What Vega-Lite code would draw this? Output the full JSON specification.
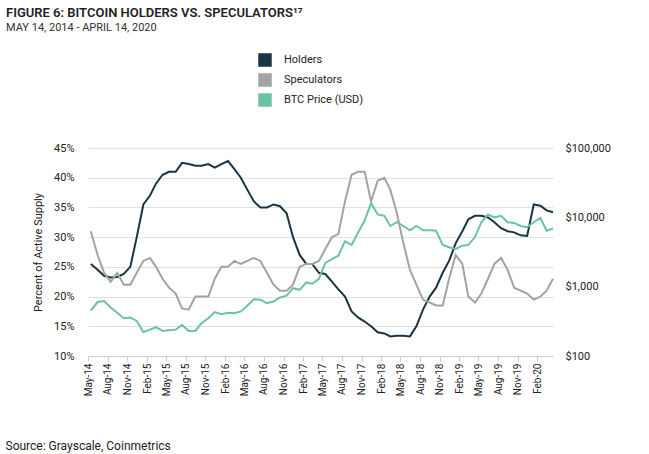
{
  "$schema": "https://vega.github.io/schema/vega-lite/v6.json",
  "autosize": "none",
  "width": 465,
  "height": 208,
  "padding": {"left": 88, "top": 148, "right": 96, "bottom": 98},
  "background": "white",
  "config": {"font": "Roboto", "view": {"stroke": null}},
  "title": {
    "text": "FIGURE 6: BITCOIN HOLDERS VS. SPECULATORS¹⁷",
    "subtitle": "MAY 14, 2014 -  APRIL 14, 2020",
    "anchor": "start", "frame": "group", "dx": -82, "offset": 20,
    "fontSize": 13, "fontWeight": 600, "color": "#222",
    "subtitleFontSize": 11, "subtitleColor": "#333", "subtitlePadding": 2
  },
  "data": {"values": [
    {"date": "2014-05-14", "holders": 25.5, "speculators": 31, "price": 450},
    {"date": "2014-06-15", "holders": 24.5, "speculators": 27, "price": 600},
    {"date": "2014-07-15", "holders": 23.5, "speculators": 24, "price": 620},
    {"date": "2014-08-15", "holders": 23.2, "speculators": 22.5, "price": 500},
    {"date": "2014-09-15", "holders": 23.3, "speculators": 24, "price": 420},
    {"date": "2014-10-15", "holders": 23.8, "speculators": 22, "price": 350},
    {"date": "2014-11-15", "holders": 25, "speculators": 22, "price": 360},
    {"date": "2014-12-15", "holders": 30, "speculators": 24, "price": 320},
    {"date": "2015-01-15", "holders": 35.5, "speculators": 26, "price": 220},
    {"date": "2015-02-15", "holders": 37, "speculators": 26.5, "price": 240},
    {"date": "2015-03-15", "holders": 39, "speculators": 25, "price": 260},
    {"date": "2015-04-15", "holders": 40.5, "speculators": 23, "price": 230},
    {"date": "2015-05-15", "holders": 41, "speculators": 21.5, "price": 235},
    {"date": "2015-06-15", "holders": 41, "speculators": 20.5, "price": 240},
    {"date": "2015-07-15", "holders": 42.5, "speculators": 18, "price": 280},
    {"date": "2015-08-15", "holders": 42.3, "speculators": 17.8, "price": 230},
    {"date": "2015-09-15", "holders": 42, "speculators": 20, "price": 230},
    {"date": "2015-10-15", "holders": 42, "speculators": 20, "price": 300},
    {"date": "2015-11-15", "holders": 42.3, "speculators": 20, "price": 350},
    {"date": "2015-12-15", "holders": 41.7, "speculators": 23, "price": 430},
    {"date": "2016-01-15", "holders": 42.3, "speculators": 25, "price": 400},
    {"date": "2016-02-15", "holders": 42.8, "speculators": 25, "price": 420},
    {"date": "2016-03-15", "holders": 41.5, "speculators": 26, "price": 415},
    {"date": "2016-04-15", "holders": 40, "speculators": 25.5, "price": 440},
    {"date": "2016-05-15", "holders": 38, "speculators": 26, "price": 530},
    {"date": "2016-06-15", "holders": 36, "speculators": 26.5, "price": 660},
    {"date": "2016-07-15", "holders": 35, "speculators": 26, "price": 650},
    {"date": "2016-08-15", "holders": 35, "speculators": 24, "price": 580},
    {"date": "2016-09-15", "holders": 35.5, "speculators": 22, "price": 610},
    {"date": "2016-10-15", "holders": 35.2, "speculators": 21, "price": 700},
    {"date": "2016-11-15", "holders": 34, "speculators": 21, "price": 740},
    {"date": "2016-12-15", "holders": 30, "speculators": 22, "price": 950},
    {"date": "2017-01-15", "holders": 27, "speculators": 25, "price": 900},
    {"date": "2017-02-15", "holders": 25.5, "speculators": 25.5, "price": 1150},
    {"date": "2017-03-15", "holders": 25.5, "speculators": 25.5, "price": 1100},
    {"date": "2017-04-15", "holders": 24, "speculators": 26, "price": 1300},
    {"date": "2017-05-15", "holders": 23.8, "speculators": 28, "price": 2200},
    {"date": "2017-06-15", "holders": 22.5, "speculators": 30, "price": 2500},
    {"date": "2017-07-15", "holders": 21.2, "speculators": 30.5, "price": 2800},
    {"date": "2017-08-15", "holders": 20, "speculators": 36, "price": 4500},
    {"date": "2017-09-15", "holders": 17.5, "speculators": 40.5, "price": 4000},
    {"date": "2017-10-15", "holders": 16.5, "speculators": 41, "price": 6000},
    {"date": "2017-11-15", "holders": 15.8, "speculators": 41, "price": 9000},
    {"date": "2017-12-15", "holders": 15, "speculators": 36, "price": 16000},
    {"date": "2018-01-15", "holders": 14, "speculators": 39.5, "price": 11000},
    {"date": "2018-02-15", "holders": 13.8, "speculators": 40, "price": 10500},
    {"date": "2018-03-15", "holders": 13.3, "speculators": 38, "price": 7500},
    {"date": "2018-04-15", "holders": 13.4, "speculators": 34, "price": 8500},
    {"date": "2018-05-15", "holders": 13.4, "speculators": 29, "price": 7500},
    {"date": "2018-06-15", "holders": 13.3, "speculators": 24.5, "price": 6500},
    {"date": "2018-07-15", "holders": 15, "speculators": 22, "price": 7500},
    {"date": "2018-08-15", "holders": 17.8, "speculators": 19.5, "price": 6500},
    {"date": "2018-09-15", "holders": 20, "speculators": 19, "price": 6500},
    {"date": "2018-10-15", "holders": 21.5, "speculators": 18.5, "price": 6400},
    {"date": "2018-11-15", "holders": 24, "speculators": 18.5, "price": 4000},
    {"date": "2018-12-15", "holders": 26, "speculators": 23, "price": 3700},
    {"date": "2019-01-15", "holders": 29, "speculators": 27, "price": 3500},
    {"date": "2019-02-15", "holders": 31, "speculators": 25.5, "price": 3900},
    {"date": "2019-03-15", "holders": 33, "speculators": 20, "price": 4000},
    {"date": "2019-04-15", "holders": 33.6, "speculators": 19, "price": 5200},
    {"date": "2019-05-15", "holders": 33.6, "speculators": 20.5, "price": 8500},
    {"date": "2019-06-15", "holders": 33.3, "speculators": 23, "price": 11000},
    {"date": "2019-07-15", "holders": 32.5, "speculators": 25.5, "price": 10000},
    {"date": "2019-08-15", "holders": 31.5, "speculators": 26.5, "price": 10500},
    {"date": "2019-09-15", "holders": 31, "speculators": 24.5, "price": 8500},
    {"date": "2019-10-15", "holders": 30.8, "speculators": 21.5, "price": 8300},
    {"date": "2019-11-15", "holders": 30.3, "speculators": 21, "price": 7500},
    {"date": "2019-12-15", "holders": 30.2, "speculators": 20.5, "price": 7200},
    {"date": "2020-01-15", "holders": 35.5, "speculators": 19.5, "price": 8500},
    {"date": "2020-02-15", "holders": 35.3, "speculators": 20, "price": 9800},
    {"date": "2020-03-15", "holders": 34.5, "speculators": 21, "price": 6400},
    {"date": "2020-04-14", "holders": 34.2, "speculators": 23, "price": 6900}
  ]},
  "encoding": {
    "x": {
      "field": "date", "type": "temporal",
      "scale": {"domain": ["2014-05-01", "2020-04-14"]},
      "axis": {
        "values": ["2014-05-01", "2014-08-01", "2014-11-01", "2015-02-01", "2015-05-01", "2015-08-01", "2015-11-01", "2016-02-01", "2016-05-01", "2016-08-01", "2016-11-01", "2017-02-01", "2017-05-01", "2017-08-01", "2017-11-01", "2018-02-01", "2018-05-01", "2018-08-01", "2018-11-01", "2019-02-01", "2019-05-01", "2019-08-01", "2019-11-01", "2020-02-01"],
        "format": "%b-%y", "labelAngle": -90, "labelFontSize": 10, "labelColor": "#222",
        "grid": false, "domainColor": "#ccc", "tickColor": "#ccc",
        "title": "Source: Grayscale, Coinmetrics", "titleAnchor": "start", "titleX": -83, "titleY": 84,
        "titleFontWeight": "normal", "titleFontSize": 12, "titleColor": "#222"
      }
    },
    "color": {
      "type": "nominal",
      "scale": {"domain": ["Holders", "Speculators", "BTC Price (USD)"], "range": ["#1c3344", "#a3a3a3", "#6cc2a4"]},
      "legend": {
        "title": null, "orient": "none", "legendX": 170, "legendY": -95,
        "symbolType": "square", "symbolSize": 30, "symbolStrokeWidth": 8, "symbolOpacity": 1,
        "clipHeight": 14, "labelFontSize": 11, "labelColor": "#222", "rowPadding": 6, "labelOffset": 12
      }
    }
  },
  "layer": [
    {
      "transform": [{"fold": ["holders", "speculators"], "as": ["key", "pct"]},
                    {"calculate": "datum.key == 'holders' ? 'Holders' : 'Speculators'", "as": "series"}],
      "mark": {"type": "line", "strokeWidth": 2},
      "encoding": {
        "y": {"field": "pct", "type": "quantitative", "scale": {"domain": [10, 45]},
          "axis": {"title": "Percent of Active Supply", "titleFontWeight": "normal", "titleFontSize": 11, "titleColor": "#222",
            "values": [10, 15, 20, 25, 30, 35, 40, 45], "labelExpr": "datum.value + '%'", "labelFontSize": 11, "labelColor": "#222",
            "domain": false, "ticks": false, "gridColor": "#e0e0e0", "labelPadding": 14, "titlePadding": 10}},
        "color": {"field": "series"},
        "order": {"value": 0}
      }
    },
    {
      "mark": {"type": "line", "strokeWidth": 2},
      "encoding": {
        "y": {"field": "price", "type": "quantitative", "scale": {"type": "log", "domain": [100, 100000]},
          "axis": {"orient": "right", "title": null, "values": [100, 1000, 10000, 100000], "format": "$,.0f",
            "labelFontSize": 11, "labelColor": "#222", "domain": false, "ticks": false, "grid": false, "labelPadding": 12}},
        "color": {"datum": "BTC Price (USD)"}
      }
    }
  ],
  "resolve": {"scale": {"y": "independent"}}
}
